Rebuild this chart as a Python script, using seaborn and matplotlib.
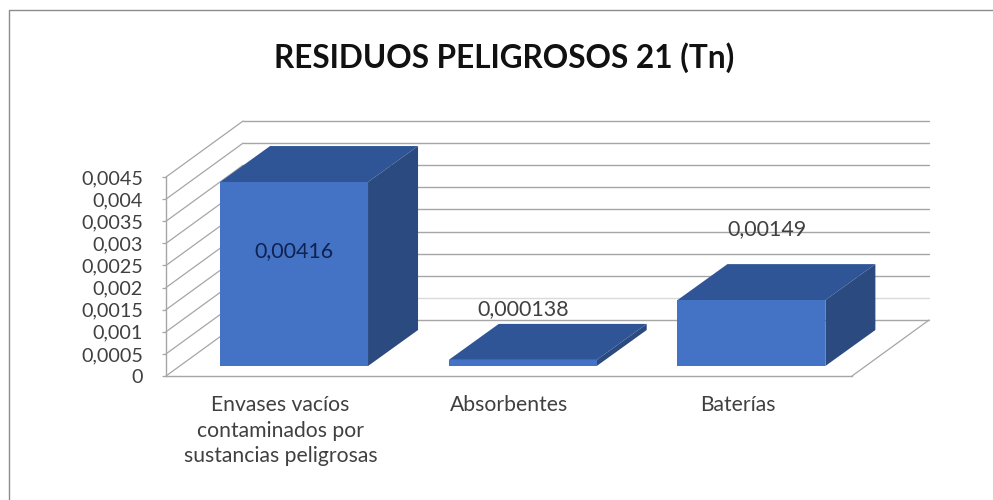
import matplotlib
matplotlib.use("Agg")
import matplotlib.pyplot as plt
import seaborn as sns
from matplotlib.lines import Line2D
from matplotlib.patches import Polygon

# ============================
#  DATA
# ============================
categories = ["Envases vacíos\ncontaminados por\nsustancias peligrosas", "Absorbentes", "Baterías"]
values = [0.00416, 0.000138, 0.00149]
value_labels = ["0,00416", "0,000138", "0,00149"]
y_ticks = [0, 0.0005, 0.001, 0.0015, 0.002, 0.0025, 0.003, 0.0035, 0.004, 0.0045]
y_tick_labels = ["0", "0,0005", "0,001", "0,0015", "0,002", "0,0025", "0,003", "0,0035", "0,004", "0,0045"]
title = "RESIDUOS PELIGROSOS 21 (Tn)"

# ============================
#  STYLE
# ============================
FRONT = "#4472C4"
TOP = "#2F5597"
SIDE = "#2A4A80"
GRID = "#A6A6A6"
TEXT = "#404040"

# fake 3D depth, in data units (x = categories, y = value)
WALL_DX, WALL_DY = 0.337, 0.001266
GAP_DX, GAP_DY = 0.06, 0.000226
BAR_DX, BAR_DY = 0.2187, 0.000814

sns.set_theme(style="white")
plt.rcParams['font.family'] = ['Lato', 'DejaVu Sans']

fig = plt.figure(figsize=(9.93, 5), dpi=100)
ax = fig.add_axes([166 / 993, 124 / 500, 686 / 993, 199 / 500])

sns.barplot(x=categories, y=values, color=FRONT, saturation=1, width=0.647, ax=ax, zorder=4, linewidth=0)
ax.set_xlim(-0.5, 2.5)
ax.set_ylim(0, 0.0045)

# ============================
#  WALLS AND FLOOR
# ============================
x0, x1 = ax.get_xlim()
for tick in y_ticks:
    line_color = "#DADADA" if tick == 0.0005 else GRID
    ax.plot([x0 + WALL_DX, x1 + WALL_DX], [tick + WALL_DY] * 2, color=line_color,
            lw=1.0, clip_on=False, zorder=1)
    ax.plot([x0, x0 + WALL_DX], [tick, tick + WALL_DY], color=GRID,
            lw=0.9, clip_on=False, zorder=1)
ax.plot([x1, x1 + WALL_DX], [0, WALL_DY], color=GRID, lw=0.9, clip_on=False, zorder=1)

# ============================
#  3D BARS
# ============================
for patch in list(ax.patches):
    patch.set_x(patch.get_x() + GAP_DX)
    patch.set_y(patch.get_y() + GAP_DY)
    patch.set_edgecolor("none")
    patch.set_clip_on(False)
    left, right = patch.get_x(), patch.get_x() + patch.get_width()
    low, high = patch.get_y(), patch.get_y() + patch.get_height()
    ax.add_patch(Polygon([(left, high), (right, high), (right + BAR_DX, high + BAR_DY), (left + BAR_DX, high + BAR_DY)],
                         facecolor=TOP, edgecolor="none", clip_on=False, zorder=3))
    ax.add_patch(Polygon([(right, low), (right + BAR_DX, low + BAR_DY), (right + BAR_DX, high + BAR_DY), (right, high)],
                         facecolor=SIDE, edgecolor="none", clip_on=False, zorder=3))

# ============================
#  VALUE LABELS
# ============================
ax.text(0.06, 0.00283, value_labels[0], ha="center", va="center", fontsize=15.4, color="#0F2350", zorder=6)
ax.text(1.06, 0.00152, value_labels[1], ha="center", va="center", fontsize=15.4, color=TEXT, zorder=6)
ax.text(2.13, 0.00333, value_labels[2], ha="center", va="center", fontsize=15.4, color=TEXT, zorder=6)

# ============================
#  AXES
# ============================
ax.set_yticks(y_ticks)
ax.set_yticklabels(y_tick_labels)
ax.tick_params(axis="y", left=True, length=3, width=0.9, color=GRID, labelsize=14.2, labelcolor=TEXT, pad=13.7)
ax.tick_params(axis="x", bottom=False, labelsize=15.2, labelcolor=TEXT, pad=8)
for lab in ax.get_xticklabels():
    lab.set_linespacing(1.34)
for side in ["top", "right"]:
    ax.spines[side].set_visible(False)
for side in ["left", "bottom"]:
    ax.spines[side].set_color(GRID)
    ax.spines[side].set_linewidth(1.0)
ax.patch.set_alpha(0)

fig.text(504 / 993, 1 - 58 / 500, title, ha="center", va="center", fontsize=22.7, fontweight="bold", color="#111111")

# outer frame, only top and left are visible
fig.add_artist(Line2D([8.5 / 993, 8.5 / 993, 1], [0, 1 - 10 / 500, 1 - 10 / 500], color="#8C8C8C", lw=1.0))

fig.savefig("out.png", dpi=100)
